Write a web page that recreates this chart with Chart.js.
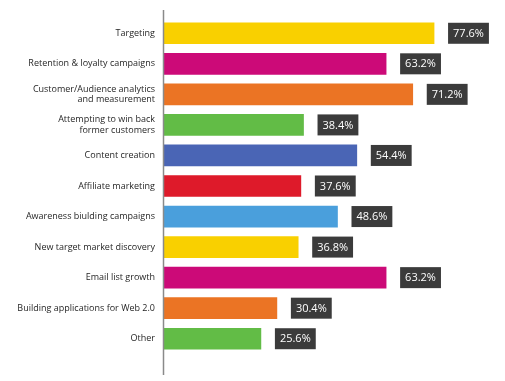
<!DOCTYPE html>
<html>
<head>
<meta charset="utf-8">
<script src="https://cdn.jsdelivr.net/npm/chart.js@4/dist/chart.umd.min.js"></script>
<style>
html,body{margin:0;padding:0;background:#fff;}
#wrap{width:505px;height:381px;position:relative;}
</style>
</head>
<body>
<div id="wrap"><canvas id="c" width="505" height="381"></canvas></div>
<script>
const categories = [
  ["Targeting"],
  ["Retention & loyalty campaigns"],
  ["Customer/Audience analytics", "and measurement"],
  ["Attempting to win back", "former customers"],
  ["Content creation"],
  ["Affiliate marketing"],
  ["Awareness biulding campaigns"],
  ["New target market discovery"],
  ["Email list growth"],
  ["Building applications for Web 2.0"],
  ["Other"]
];
const values = [77.6, 63.2, 71.2, 38.4, 54.4, 37.6, 48.6, 36.8, 63.2, 30.4, 25.6];
const barColors = ["#F9D000", "#CC0A78", "#EB7424", "#62BC46", "#4A65B5", "#DE1A2A", "#4A9FDC", "#F9D000", "#CC0A78", "#EB7424", "#62BC46"];

const valueBoxes = {
  id: 'valueBoxes',
  afterDatasetsDraw(chart) {
    const ctx = chart.ctx;
    const meta = chart.getDatasetMeta(0);
    ctx.save();
    ctx.font = '11px "Open Sans", sans-serif';
    ctx.textBaseline = 'middle';
    ctx.textAlign = 'center';
    meta.data.forEach((bar, i) => {
      const txt = values[i].toFixed(1) + '%';
      const w = ctx.measureText(txt).width + 10;
      const h = 21;
      const x0 = bar.x + 14;
      ctx.fillStyle = '#3b3b3b';
      ctx.fillRect(x0, bar.y - h / 2, w, h);
      ctx.fillStyle = '#ffffff';
      ctx.fillText(txt, x0 + w / 2, bar.y + 0.5);
    });
    ctx.restore();
  }
};

const axisLine = {
  id: 'axisLine',
  afterDraw(chart) {
    const ctx = chart.ctx;
    const x = chart.chartArea.left;
    ctx.save();
    ctx.strokeStyle = '#8a8a8a';
    ctx.lineWidth = 1.5;
    ctx.beginPath();
    ctx.moveTo(x - 0.5, 10);
    ctx.lineTo(x - 0.5, 375);
    ctx.stroke();
    ctx.restore();
  }
};

new Chart(document.getElementById('c'), {
  type: 'bar',
  data: {
    labels: categories,
    datasets: [{
      data: values,
      backgroundColor: barColors,
      borderWidth: 0,
      barThickness: 21,
      base: -3.5
    }]
  },
  options: {
    indexAxis: 'y',
    responsive: false,
    animation: false,
    layout: { padding: { top: 18, bottom: 27, left: 0, right: 4 } },
    plugins: { legend: { display: false }, tooltip: { enabled: false } },
    scales: {
      x: {
        min: -3.5, max: 97.7,
        display: false,
        grid: { display: false }
      },
      y: {
        grid: { display: false, drawTicks: false },
        border: { display: false },
        ticks: {
          color: '#262626',
          font: { family: '"Open Sans", sans-serif', size: 9 },
          padding: 9
        },
        afterFit(scale) { scale.width = 164; }
      }
    }
  },
  plugins: [valueBoxes, axisLine]
});
</script>
</body>
</html>
